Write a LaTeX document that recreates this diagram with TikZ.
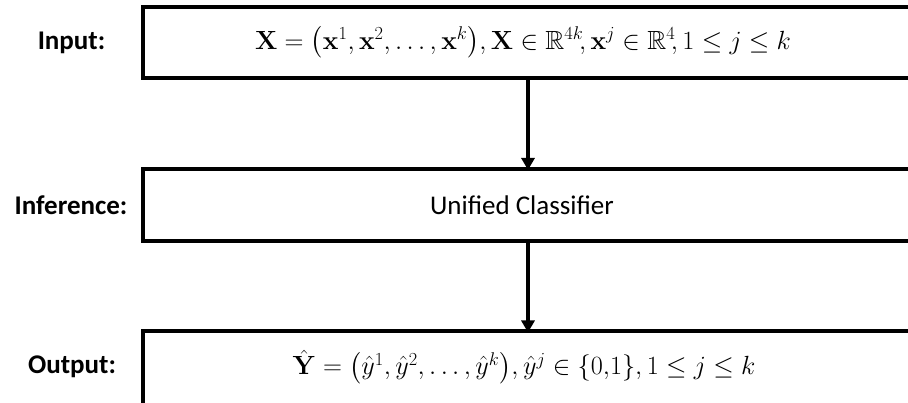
\RequirePackage{fix-cm}
\documentclass[tikz,border=0pt]{standalone}
\usepackage{amsmath,amssymb}
\usepackage[no-math]{fontspec}
\setmainfont{Carlito}
\usetikzlibrary{arrows.meta}
\tikzset{
  stagebox/.style={draw=black, line width=4pt},
  lbl/.style={font=\fontsize{27}{32}\selectfont\bfseries, anchor=center},
  content/.style={font=\fontsize{27}{32}\selectfont, anchor=center},
  mathtxt/.style={font=\fontsize{26.3}{32}\selectfont, anchor=center},
  flow/.style={line width=4pt, -{Triangle[length=12pt,width=13pt]}, shorten >=-1pt}
}
\begin{document}
\begin{tikzpicture}[x=1pt,y=-1pt]
\useasboundingbox (0,0) rectangle (908,403);
% boxes
\draw[stagebox] (143,7) rectangle (920,78);
\draw[stagebox] (143,169) rectangle (920,241);
\draw[stagebox] (143,331.5) rectangle (920,405);
\coordinate (inB) at (528,78);
\coordinate (infT) at (528,169);
\coordinate (infB) at (528,241);
\coordinate (outT) at (528,331.5);
% labels
\node[lbl] (lin) at (71.5,42.5) {Input:};
\node[lbl] (linf) at (71,205) {Inference:};
\node[lbl] (lout) at (72,367) {Output:};
% contents
\node[mathtxt] (tin) at (523,42.5) {$\mathbf{X}=\left(\mathbf{x}^1,\mathbf{x}^2,\ldots,\mathbf{x}^k\right)\!,\mathbf{X}\in\mathbb{R}^{4k}\!,\mathbf{x}^j\in\mathbb{R}^4\!,1\le j\le k$};
\node[content] (tinf) at (522,205) {Unified Classifier};
\node[mathtxt] (tout) at (524,367) {$\hat{\mathbf{Y}}=\left(\hat{y}^1,\hat{y}^2,\ldots,\hat{y}^k\right)\!,\hat{y}^j\in\{0{,}1\},1\le j\le k$};
% arrows
\draw[flow] (inB) -- (infT);
\draw[flow] (infB) -- (outT);
\end{tikzpicture}
\end{document}
